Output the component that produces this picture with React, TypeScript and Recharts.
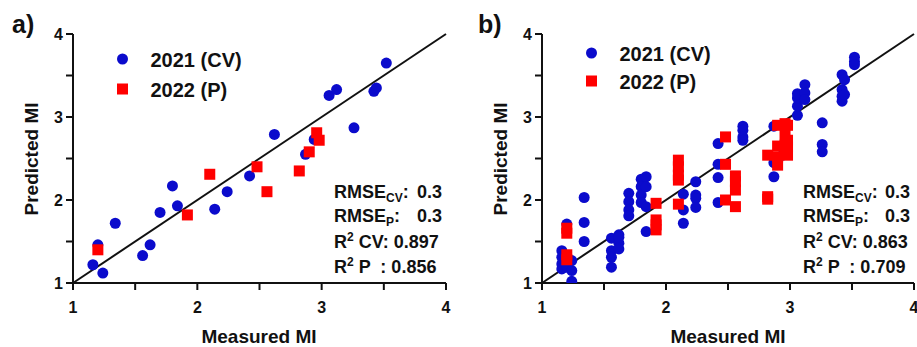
import React from "react";
import { ScatterChart, Scatter, XAxis, YAxis, ReferenceLine } from "recharts";

// panel a) – one prediction per sample
const cvMeasuredA = [1.16, 1.2, 1.24, 1.34, 1.56, 1.62, 1.7, 1.8, 1.84, 2.14, 2.24, 2.42, 2.62, 2.87, 2.94, 3.06, 3.12, 3.26, 3.42, 3.44, 3.52];
const cvPredictedA = [1.22, 1.46, 1.12, 1.72, 1.33, 1.46, 1.85, 2.17, 1.93, 1.89, 2.1, 2.29, 2.79, 2.55, 2.73, 3.26, 3.33, 2.87, 3.31, 3.35, 3.65];
const pMeasuredA = [1.2, 1.92, 2.1, 2.48, 2.56, 2.82, 2.9, 2.96, 2.98];
const pPredictedA = [1.4, 1.82, 2.31, 2.4, 2.1, 2.35, 2.58, 2.81, 2.72];

// panel b) – repeated predictions per sample
const cvMeasuredB = [
  1.16, 1.16, 1.16, 1.16, 1.2, 1.2, 1.2, 1.24, 1.24, 1.24, 1.34, 1.34, 1.34,
  1.56, 1.56, 1.56, 1.56, 1.62, 1.62, 1.62, 1.62, 1.7, 1.7, 1.7, 1.7,
  1.8, 1.8, 1.8, 1.8, 1.84, 1.84, 1.84, 1.84, 2.14, 2.14, 2.14,
  2.24, 2.24, 2.24, 2.24, 2.42, 2.42, 2.42, 2.42, 2.62, 2.62, 2.62, 2.62,
  2.87, 2.87, 2.87, 2.94, 3.06, 3.06, 3.06, 3.06, 3.12, 3.12, 3.12,
  3.26, 3.26, 3.26, 3.42, 3.42, 3.42, 3.42, 3.44, 3.44, 3.52, 3.52, 3.52,
];
const cvPredictedB = [
  1.39, 1.23, 1.17, 1.31, 1.71, 1.31, 1.19, 1.27, 1.15, 1.02, 2.03, 1.73, 1.5,
  1.54, 1.39, 1.31, 1.19, 1.58, 1.48, 1.41, 1.55, 2.08, 1.98, 1.88, 1.81,
  2.25, 2.16, 2.06, 1.97, 2.28, 2.16, 1.92, 1.62, 2.07, 1.88, 1.72,
  2.22, 2.06, 2.02, 1.91, 2.68, 2.43, 2.27, 1.97, 2.89, 2.84, 2.76, 2.72,
  2.89, 2.45, 2.28, 2.54, 3.02, 3.13, 3.23, 3.28, 3.39, 3.29, 3.21,
  2.93, 2.67, 2.58, 3.51, 3.33, 3.25, 3.19, 3.45, 3.27, 3.72, 3.67, 3.63,
];
const pMeasuredB = [
  1.2, 1.2, 1.2, 1.2, 1.92, 1.92, 1.92, 1.92, 2.1, 2.1, 2.1, 2.1, 2.1,
  2.48, 2.48, 2.48, 2.56, 2.56, 2.56, 2.56, 2.82, 2.82, 2.82,
  2.9, 2.9, 2.9, 2.9, 2.96, 2.96, 2.96, 2.96, 2.98, 2.98, 2.98, 2.98,
];
const pPredictedB = [
  1.66, 1.6, 1.34, 1.28, 1.96, 1.76, 1.7, 1.64, 2.48, 2.4, 2.3, 2.24, 1.95,
  2.76, 2.43, 2.0, 2.29, 2.22, 2.12, 1.92, 2.54, 2.04, 2.01,
  2.9, 2.65, 2.52, 2.42, 2.92, 2.78, 2.66, 2.56, 2.9, 2.72, 2.64, 2.54,
];

const axisTicks = [1, 1.5, 2, 2.5, 3, 3.5, 4];
const identity = [1, 4];
const seriesNames = ["2021 (CV)", "2022 (P)"];
const statsA = ["0.3", "0.3", "0.897", "0.856"];
const statsB = ["0.3", "0.3", "0.863", "0.709"];

const BLUE = "#0b0bcc";
const RED = "#ff0000";
const INK = "#111";
const FONT = "'Liberation Sans', Arial, sans-serif";

const zip = (xs: number[], ys: number[]) => xs.map((x, i) => ({ x, y: ys[i] }));

const Dot = (p: any) => <circle cx={p.cx} cy={p.cy} r={5.5} fill={BLUE} />;
const Square = (p: any) => (
  <rect x={p.cx - 5.5} y={p.cy - 5.5} width={11} height={11} fill={RED} />
);

const tickStyle = { fill: INK, fontSize: 16, fontWeight: 700, fontFamily: FONT };
const intOnly = (v: number) => (Number.isInteger(v) ? String(v) : "");

function Panel({
  cv,
  p,
  width,
  margin,
}: {
  cv: { x: number; y: number }[];
  p: { x: number; y: number }[];
  width: number;
  margin: { top: number; right: number; bottom: number; left: number };
}) {
  return (
    <ScatterChart width={width} height={347} margin={margin}>
      <XAxis
        type="number"
        dataKey="x"
        domain={[1, 4]}
        ticks={axisTicks}
        tickFormatter={intOnly}
        allowDataOverflow
        height={30}
        tickSize={7}
        tickMargin={12}
        axisLine={{ stroke: INK, strokeWidth: 2 }}
        tickLine={{ stroke: INK, strokeWidth: 2 }}
        tick={tickStyle}
        interval={0}
      />
      <YAxis
        type="number"
        dataKey="y"
        domain={[1, 4]}
        ticks={axisTicks}
        tickFormatter={intOnly}
        allowDataOverflow
        width={40}
        tickSize={7}
        tickMargin={3}
        axisLine={{ stroke: INK, strokeWidth: 2 }}
        tickLine={{ stroke: INK, strokeWidth: 2 }}
        tick={tickStyle}
        interval={0}
      />
      <ReferenceLine
        segment={[
          { x: identity[0], y: identity[0] },
          { x: identity[1], y: identity[1] },
        ]}
        stroke={INK}
        strokeWidth={2}
        ifOverflow="visible"
      />
      <Scatter name={seriesNames[0]} data={cv} shape={Dot} isAnimationActive={false} />
      <Scatter name={seriesNames[1]} data={p} shape={Square} isAnimationActive={false} />
    </ScatterChart>
  );
}

// text layer for one panel: letter, axis titles, legend, fit stats
function Annotations({
  dx,
  letter,
  stats,
  legendX,
  legendY,
  legendGap,
  yTitleX,
  xTitleX,
  statsX,
  statsEnd,
}: any) {
  const t = { fontFamily: FONT, fontWeight: 700, fill: INK } as const;
  return (
    <g transform={`translate(${dx},0)`}>
      <text x={letter === "a)" ? 12 : 18} y={33} fontSize={25} {...t}>
        {letter}
      </text>
      <text
        transform={`translate(${yTitleX},159) rotate(-90)`}
        textAnchor="middle"
        fontSize={19}
        {...t}
      >
        Predicted MI
      </text>
      <text x={xTitleX} y={343} textAnchor="middle" fontSize={19} {...t}>
        Measured MI
      </text>
      <circle cx={legendX} cy={legendY} r={5.5} fill={BLUE} />
      <rect x={legendX - 5.5} y={legendY + legendGap - 5.5} width={11} height={11} fill={RED} />
      <text x={legendX + 28} y={legendY + 7.5} fontSize={20} {...t}>
        {seriesNames[0]}
      </text>
      <text x={legendX + 28} y={legendY + legendGap + 7.5} fontSize={20} {...t}>
        {seriesNames[1]}
      </text>
      <g fontSize={18} {...t}>
        <text x={statsX} y={198}>
          RMSE<tspan fontSize={12} dy={4}>CV</tspan>
          <tspan dy={-4}>:</tspan>
        </text>
        <text x={statsEnd} y={198} textAnchor="end">
          {stats[0]}
        </text>
        <text x={statsX} y={222}>
          RMSE<tspan fontSize={12} dy={4}>P</tspan>
          <tspan dy={-4}>:</tspan>
        </text>
        <text x={statsEnd} y={222} textAnchor="end">
          {stats[1]}
        </text>
        <text x={statsX} y={248} xmlSpace="preserve">
          R<tspan fontSize={12} dy={-7}>2</tspan>
          <tspan dy={7}>{` CV: ${stats[2]}`}</tspan>
        </text>
        <text x={statsX} y={273} xmlSpace="preserve">
          R<tspan fontSize={12} dy={-7}>2</tspan>
          <tspan dy={7}>{` P  : ${stats[3]}`}</tspan>
        </text>
      </g>
    </g>
  );
}

export default function App() {
  return (
    <div
      style={{
        position: "absolute",
        left: 0,
        top: 0,
        width: 917,
        height: 347,
        overflow: "hidden",
        background: "#fff",
      }}
    >
      <div style={{ position: "absolute", left: 0, top: 0 }}>
        <Panel
          cv={zip(cvMeasuredA, cvPredictedA)}
          p={zip(pMeasuredA, pPredictedA)}
          width={460}
          margin={{ top: 34, right: 14, bottom: 34, left: 33 }}
        />
      </div>
      <div style={{ position: "absolute", left: 460, top: 0 }}>
        <Panel
          cv={zip(cvMeasuredB, cvPredictedB)}
          p={zip(pMeasuredB, pPredictedB)}
          width={470}
          margin={{ top: 34, right: 16, bottom: 34, left: 42 }}
        />
      </div>
      <svg
        width={917}
        height={347}
        style={{ position: "absolute", left: 0, top: 0, pointerEvents: "none" }}
      >
        <Annotations
          dx={0}
          letter="a)"
          stats={statsA}
          legendX={122.5}
          legendY={59}
          legendGap={30}
          yTitleX={38}
          xTitleX={259}
          statsX={334}
          statsEnd={442}
        />
        <Annotations
          dx={460}
          letter="b)"
          stats={statsB}
          legendX={131.5}
          legendY={53}
          legendGap={28}
          yTitleX={46.5}
          xTitleX={268}
          statsX={343}
          statsEnd={450}
        />
      </svg>
    </div>
  );
}
